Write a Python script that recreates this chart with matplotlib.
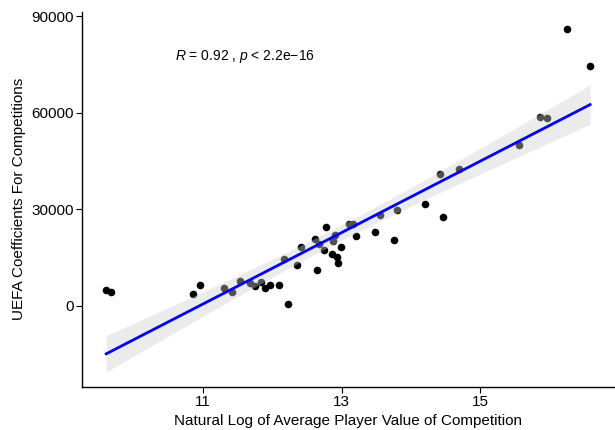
import numpy as np
import matplotlib
matplotlib.use("Agg")
import matplotlib.pyplot as plt

plt.rcParams["font.family"] = ["Liberation Sans", "DejaVu Sans"]
plt.rcParams["mathtext.fontset"] = "custom"
plt.rcParams["mathtext.rm"] = "Liberation Sans"
plt.rcParams["mathtext.it"] = "Liberation Sans:italic"

# log of average player value per competition
log_value = [9.60, 9.67, 10.85, 10.96, 11.30, 11.41, 11.53, 11.67, 11.75, 11.83,
             11.90, 11.96, 12.10, 12.17, 12.23, 12.35, 12.41, 12.61, 12.65, 12.68,
             12.74, 12.78, 12.86, 12.87, 12.90, 12.94, 12.95, 12.99, 13.11, 13.17,
             13.21, 13.49, 13.55, 13.76, 13.80, 14.20, 14.42, 14.47, 14.70, 15.56,
             15.87, 15.97, 16.25, 16.59]
# UEFA coefficient
uefa_coef = [4970, 4350, 3730, 6530, 5500, 4140, 7560, 7060, 6220, 7250,
             5500, 6530, 6430, 14520, 620, 12650, 18340, 20830, 10980, 19280,
             17410, 24340, 16170, 20000, 21860, 15140, 13270, 18140, 25490, 25400,
             21760, 22900, 28290, 20520, 29850, 31710, 40940, 27670, 42500, 49840,
             58670, 58360, 86030, 74520]

stat_label = r"$R$ = 0.92 , $p$ < 2.2e−16"

x = np.array(log_value)
y = np.array(uefa_coef)

# linear fit + 95% confidence band, like geom_smooth(method = "lm")
n = len(x)
b1, b0 = np.polyfit(x, y, 1)
resid = y - (b0 + b1 * x)
s = np.sqrt(np.sum(resid**2) / (n - 2))
xs = np.linspace(x.min(), x.max(), 100)
ys = b0 + b1 * xs
se = s * np.sqrt(1 / n + (xs - x.mean())**2 / np.sum((x - x.mean())**2))
tcrit = 2.018  # t(0.975, 42)

fig = plt.figure(figsize=(6.15, 4.3), dpi=100)
ax = fig.add_axes([82 / 615, 43.5 / 430, 533 / 615, 374.5 / 430])

ax.scatter(x, y, s=30, color="black", linewidths=0, zorder=2)
# band drawn over the points so the ones inside it turn grey
ax.fill_between(xs, ys - tcrit * se, ys + tcrit * se, color="#cdcdcd",
                alpha=0.4, linewidth=0, zorder=3)
ax.plot(xs, ys, color="blue", linewidth=2, zorder=4)

ax.text(10.59, 77400, stat_label, fontsize=10, ha="left", va="center")

ax.set_xlim(9.25, 16.95)
ax.set_ylim(-25130, 91300)
ax.set_xticks([11, 13, 15])
ax.set_yticks([0, 30000, 60000, 90000])
ax.set_yticklabels(["0", "30000", "60000", "90000"])
ax.tick_params(labelsize=11, length=4, width=0.8, colors="black", pad=2)
for side in ["top", "right"]:
    ax.spines[side].set_visible(False)
for side in ["left", "bottom"]:
    ax.spines[side].set_linewidth(1.0)

ax.set_xlabel("Natural Log of Average Player Value of Competition", fontsize=11, labelpad=4)
ax.set_ylabel("UEFA Coefficients For Competitions", fontsize=11, labelpad=4)

fig.savefig("out.png", dpi=100)
